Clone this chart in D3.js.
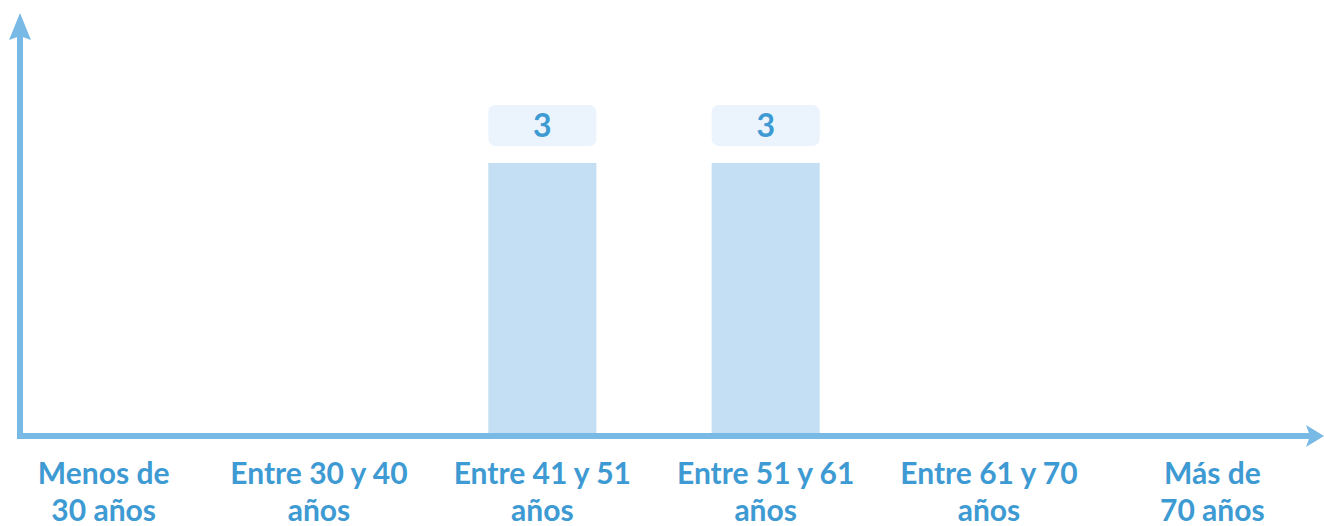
<!DOCTYPE html>
<html lang="es">
  <head>
    <meta charset="UTF-8" />
    <script src="https://d3js.org/d3.v7.min.js"></script>
    <style>
      body { margin: 0; background: #fff; }
      text { font-family: Lato, "Open Sans", sans-serif; font-weight: bold; }
    </style>
  </head>
  <body>
    <div id="chart"></div>
    <script>
    // data
    var categories = ["Menos de|30 años", "Entre 30 y 40|años", "Entre 41 y 51|años",
                      "Entre 51 y 61|años", "Entre 61 y 70|años", "Más de|70 años"];
    var values = [0, 0, 3, 3, 0, 0];

    var W = 1324, H = 526;
    var axisColor = "#79b9e6", barColor = "#c4dff3", textColor = "#3d9ad2", boxColor = "#ebf4fc";
    var x0 = 20, baseline = 436;

    var svg = d3.select("#chart").append("svg")
        .attr("width", W).attr("height", H);

    var x = d3.scaleBand()
        .domain(categories)
        .range([-16, 1324])
        .paddingInner(0.516)
        .paddingOuter(0.258);

    var y = d3.scaleLinear()
        .domain([0, 3])
        .range([baseline + 2, 163]);

    // bars
    var data = categories.map(function(c, i) { return {cat: c, v: values[i]}; });
    var shown = data.filter(function(d) { return d.v > 0; });

    svg.selectAll("rect.bar")
      .data(shown)
      .enter().append("rect")
        .attr("class", "bar")
        .attr("x", function(d) { return x(d.cat); })
        .attr("y", function(d) { return y(d.v); })
        .attr("width", x.bandwidth())
        .attr("height", function(d) { return y(0) - y(d.v); })
        .attr("fill", barColor);

    // value labels
    svg.selectAll("rect.box")
      .data(shown)
      .enter().append("rect")
        .attr("class", "box")
        .attr("x", function(d) { return x(d.cat); })
        .attr("y", function(d) { return y(d.v) - 58; })
        .attr("width", x.bandwidth())
        .attr("height", 41)
        .attr("rx", 7)
        .attr("fill", boxColor);

    svg.selectAll("text.val")
      .data(shown)
      .enter().append("text")
        .attr("class", "val")
        .attr("x", function(d) { return x(d.cat) + x.bandwidth() / 2; })
        .attr("y", function(d) { return y(d.v) - 26; })
        .attr("text-anchor", "middle")
        .attr("font-size", 32)
        .attr("font-weight", 900)
        .attr("fill", textColor)
        .text(function(d) { return d.v; });

    // axes
    svg.append("line")
      .attr("x1", x0).attr("y1", baseline + 3)
      .attr("x2", x0).attr("y2", 30)
      .attr("stroke", axisColor).attr("stroke-width", 6);
    svg.append("path")
      .attr("d", "M" + (x0 - 11) + ",40 L" + x0 + ",13 L" + (x0 + 11) + ",40 L" + x0 + ",36 Z")
      .attr("fill", axisColor);

    svg.append("line")
      .attr("x1", x0 - 3).attr("y1", baseline)
      .attr("x2", 1312).attr("y2", baseline)
      .attr("stroke", axisColor).attr("stroke-width", 6);
    svg.append("path")
      .attr("d", "M1306," + (baseline - 11) + " L1324," + baseline + " L1306," + (baseline + 11) + " L1310," + baseline + " Z")
      .attr("fill", axisColor);

    // category labels
    var lab = svg.selectAll("text.cat")
      .data(categories)
      .enter().append("text")
        .attr("class", "cat")
        .attr("text-anchor", "middle")
        .attr("font-size", 30)
        .attr("fill", textColor);
    lab.each(function(c, k) {
      var parts = c.split("|");
      var t = d3.select(this);
      var cx = x(c) + x.bandwidth() / 2 + (k === 0 ? 8 : 0);
      parts.forEach(function(p, i) {
        t.append("tspan")
          .attr("x", cx)
          .attr("y", 484 + i * 37)
          .text(p);
      });
    });
    </script>
  </body>
</html>
